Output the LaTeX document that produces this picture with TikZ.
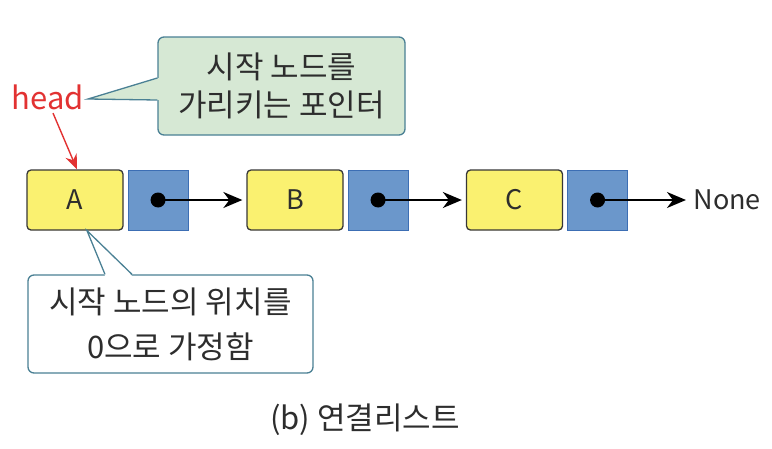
\documentclass[tikz,border=0pt]{standalone}
\usepackage{fontspec}
\setmainfont{Noto Sans CJK KR}
\usetikzlibrary{positioning,arrows.meta}
\definecolor{nodeyellow}{RGB}{250,241,112}
\definecolor{ptrblue}{RGB}{107,151,203}
\definecolor{ptrline}{RGB}{60,110,180}
\definecolor{boxgray}{RGB}{55,55,55}
\definecolor{textgray}{RGB}{45,45,45}
\definecolor{notegreen}{RGB}{214,232,212}
\definecolor{noteline}{RGB}{74,128,148}
\definecolor{headred}{RGB}{226,50,50}

\begin{document}
\begin{tikzpicture}[x=1pt,y=-1pt,
    txt/.style={font=\fontsize{31}{40}\selectfont,text=textgray},
    small/.style={font=\fontsize{27}{34}\selectfont,text=textgray},
    data/.style={small,draw=boxgray,fill=nodeyellow,rounded corners=4pt,line width=1.3pt,
        minimum width=96pt,minimum height=60pt,inner sep=0pt},
    ptr/.style={draw=ptrline,fill=ptrblue,line width=0.8pt,
        minimum width=60pt,minimum height=60pt,inner sep=0pt},
    dot/.style={circle,fill=black,minimum size=15pt,inner sep=0pt},
    link/.style={-{Stealth[length=19pt,width=16pt,inset=6pt]},line width=1.6pt,shorten >=4pt},
    note/.style={txt,draw=noteline,line width=1.3pt,rounded corners=6pt,align=center},
    tipline/.style={draw=noteline,line width=1.3pt}]
\useasboundingbox (0,0) rectangle (772,448);

\foreach \n/\x in {A/75,B/295,C/514.5} {
    \node[data] (\n) at (\x,200) {\n};
    \node[ptr,right=4pt of \n] (p\n) {};
    \node[dot] (d\n) at (p\n) {};
}
\node[small,right=62pt of pC] (none) {None};
\foreach \a/\b in {A/B,B/C,C/none}
    \draw[link] (d\a.center) -- (\b);

\node[txt,text=headred] (head) at (48,97) {head};
\draw[-{Stealth[length=15pt,width=12pt,inset=5pt]},headred,line width=1.4pt]
    ([xshift=5pt]head.south) -- ([xshift=2pt]A.north);

\node[note,fill=notegreen,minimum width=247pt,minimum height=98pt] (note1) at (281.5,86)
    {시작 노드를\\[-2pt]가리키는 포인터};
\coordinate (tip1) at (88,99);
\fill[notegreen] ([xshift=1.5pt,yshift=8pt]note1.west) -- (tip1) -- ([xshift=1.5pt,yshift=-14pt]note1.west) -- cycle;
\draw[tipline] ([yshift=8pt]note1.west) -- (tip1) -- ([yshift=-14pt]note1.west);

\node[note,fill=white,minimum width=285pt,minimum height=98pt] (note2) at (170.5,324)
    {시작 노드의 위치를\\[5pt]0으로 가정함};
\coordinate (tip2) at ([xshift=12pt]A.south);
\fill[white] ([xshift=-65.5pt,yshift=-1.5pt]note2.north) -- (tip2) -- ([xshift=-38.5pt,yshift=-1.5pt]note2.north) -- cycle;
\draw[tipline] ([xshift=-65.5pt]note2.north) -- (tip2) -- ([xshift=-38.5pt]note2.north);

\node[txt] (cap) at (365,420) {(b) 연결리스트};
\end{tikzpicture}
\end{document}
